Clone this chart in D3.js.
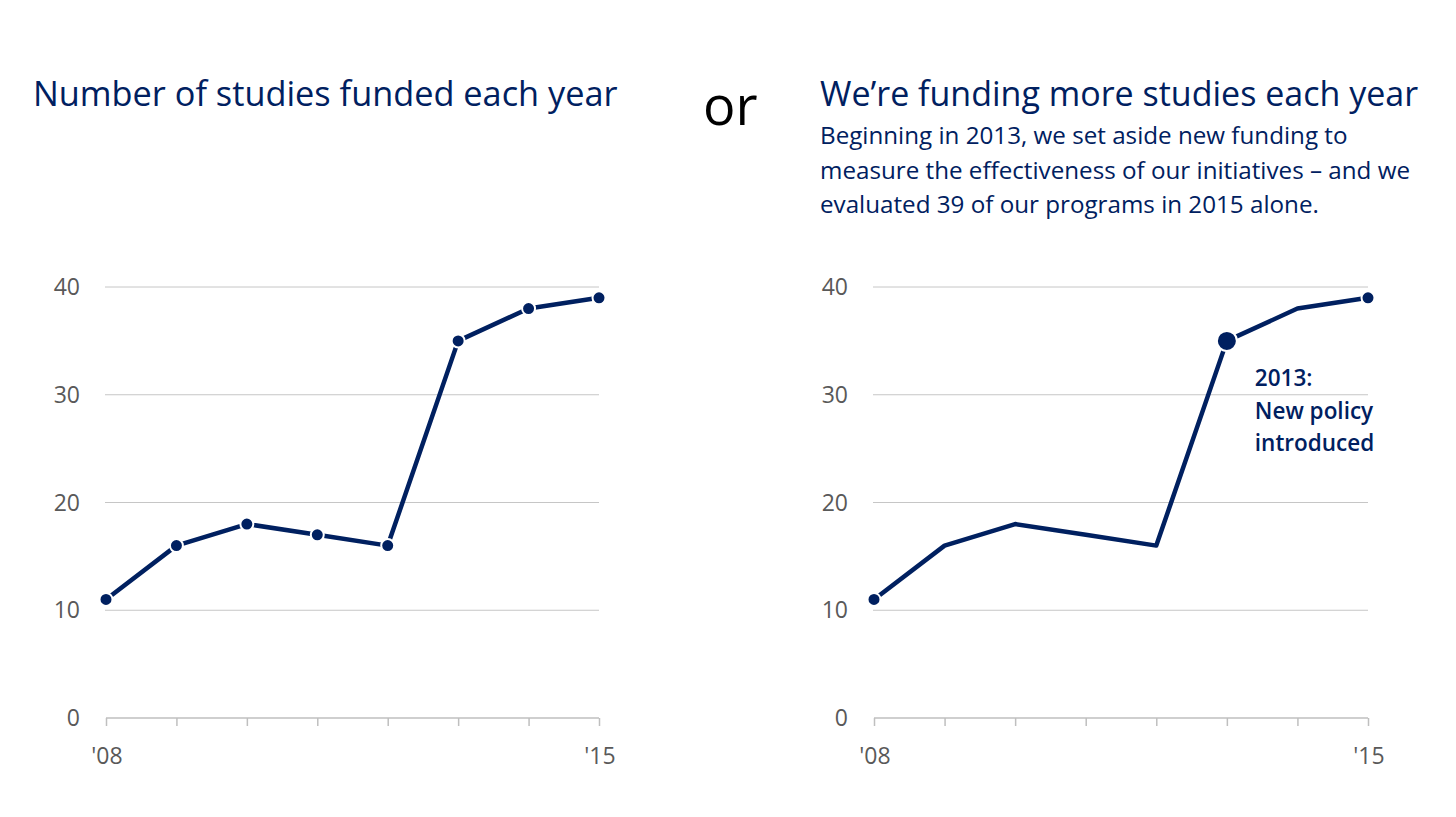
<!DOCTYPE html>
<meta charset="utf-8">
<script src="https://d3js.org/d3.v7.min.js"></script>
<style>
body { margin: 0; background: #fff; }
text { font-family: "Open Sans", sans-serif; }
.tick-label { fill: #595959; font-size: 23px; }
</style>
<svg id="chart" width="1456" height="817"></svg>
<script>
// data
var years = ["2008", "2009", "2010", "2011", "2012", "2013", "2014", "2015"];
var studies = [11, 16, 18, 17, 16, 35, 38, 39];
var yTicks = [0, 10, 20, 30, 40];
var xTickLabels = {"2008": "'08", "2015": "'15"};

var navy = "#002060";
var svg = d3.select("#chart");

var y = d3.scaleLinear().domain([0, 40]).range([718, 287]);

function drawPanel(x0, x1, showAll) {
  var g = svg.append("g");
  var x = d3.scalePoint().domain(years).range([x0, x1]);

  // gridlines
  g.selectAll(".grid")
    .data(yTicks.filter(function(d){ return d > 0; }))
    .enter().append("line")
      .attr("x1", x0 - 1).attr("x2", x1)
      .attr("y1", function(d){ return y(d); })
      .attr("y2", function(d){ return y(d); })
      .attr("stroke", "#c6c6c6").attr("stroke-width", 1);

  // x axis
  var xAxis = d3.axisBottom(x).tickSize(8).tickFormat("");
  var ax = g.append("g").attr("transform", "translate(0," + y(0) + ")").call(xAxis);
  ax.select(".domain").attr("stroke", "#bfbfbf").attr("stroke-width", 1.5).attr("d", "M" + x0 + ",0H" + x1);
  ax.selectAll(".tick line").attr("stroke", "#bfbfbf").attr("stroke-width", 1.5);

  // x labels
  g.selectAll(".xl")
    .data(years.filter(function(d){ return xTickLabels[d]; }))
    .enter().append("text")
      .attr("class", "tick-label")
      .attr("x", function(d){ return x(d) + 1; })
      .attr("y", y(0) + 46)
      .attr("text-anchor", "middle")
      .text(function(d){ return xTickLabels[d]; });

  // y labels
  g.selectAll(".yl")
    .data(yTicks)
    .enter().append("text")
      .attr("class", "tick-label")
      .attr("x", x0 - 26)
      .attr("y", function(d){ return y(d); })
      .attr("dy", "0.35em")
      .attr("text-anchor", "end")
      .text(function(d){ return d; });

  var line = d3.line()
    .x(function(d, i){ return x(years[i]); })
    .y(function(d){ return y(d); });

  g.append("path")
    .datum(studies)
    .attr("d", line)
    .attr("fill", "none")
    .attr("stroke", navy)
    .attr("stroke-width", 4.5)
    .attr("stroke-linejoin", "round");

  var pts = studies.map(function(v, i){ return {year: years[i], value: v}; });
  if (!showAll) {
    pts = pts.filter(function(d){ return d.year == "2008" || d.year == "2013" || d.year == "2015"; });
  }
  g.selectAll(".dot")
    .data(pts)
    .enter().append("circle")
      .attr("cx", function(d){ return x(d.year); })
      .attr("cy", function(d){ return y(d.value); })
      .attr("r", function(d){ return (!showAll && d.year == "2013") ? 10 : 6.5; })
      .attr("fill", navy)
      .attr("stroke", "#fff")
      .attr("stroke-width", 2);
  return x;
}

drawPanel(106, 599, true);
var xr = drawPanel(874, 1368, false);

// titles
svg.append("text")
  .attr("x", 33).attr("y", 106)
  .style("font-size", "34.3px").style("fill", navy)
  .text("Number of studies funded each year");

svg.append("text")
  .attr("x", 703).attr("y", 125)
  .style("font-size", "54px").style("fill", "#000")
  .text("or");

svg.append("text")
  .attr("x", 820).attr("y", 106)
  .style("font-size", "34px").style("fill", navy)
  .text("We\u2019re funding more studies each year");

var sub = ["Beginning in 2013, we set aside new funding to",
           "measure the effectiveness of our initiatives \u2013 and we",
           "evaluated 39 of our programs in 2015 alone."];
svg.append("g").selectAll("text")
  .data(sub)
  .enter().append("text")
    .attr("x", 820)
    .attr("y", function(d, i){ return 144 + i * 34.5; })
    .style("font-size", "24.2px").style("fill", navy)
    .text(function(d){ return d; });

// annotation
var note = ["2013:", "New policy", "introduced"];
svg.append("g").selectAll("text")
  .data(note)
  .enter().append("text")
    .attr("x", xr("2013") + 28)
    .attr("y", function(d, i){ return 386 + i * 32.5; })
    .style("font-size", "22.5px").style("font-weight", 600).style("fill", navy)
    .text(function(d){ return d; });
</script>
